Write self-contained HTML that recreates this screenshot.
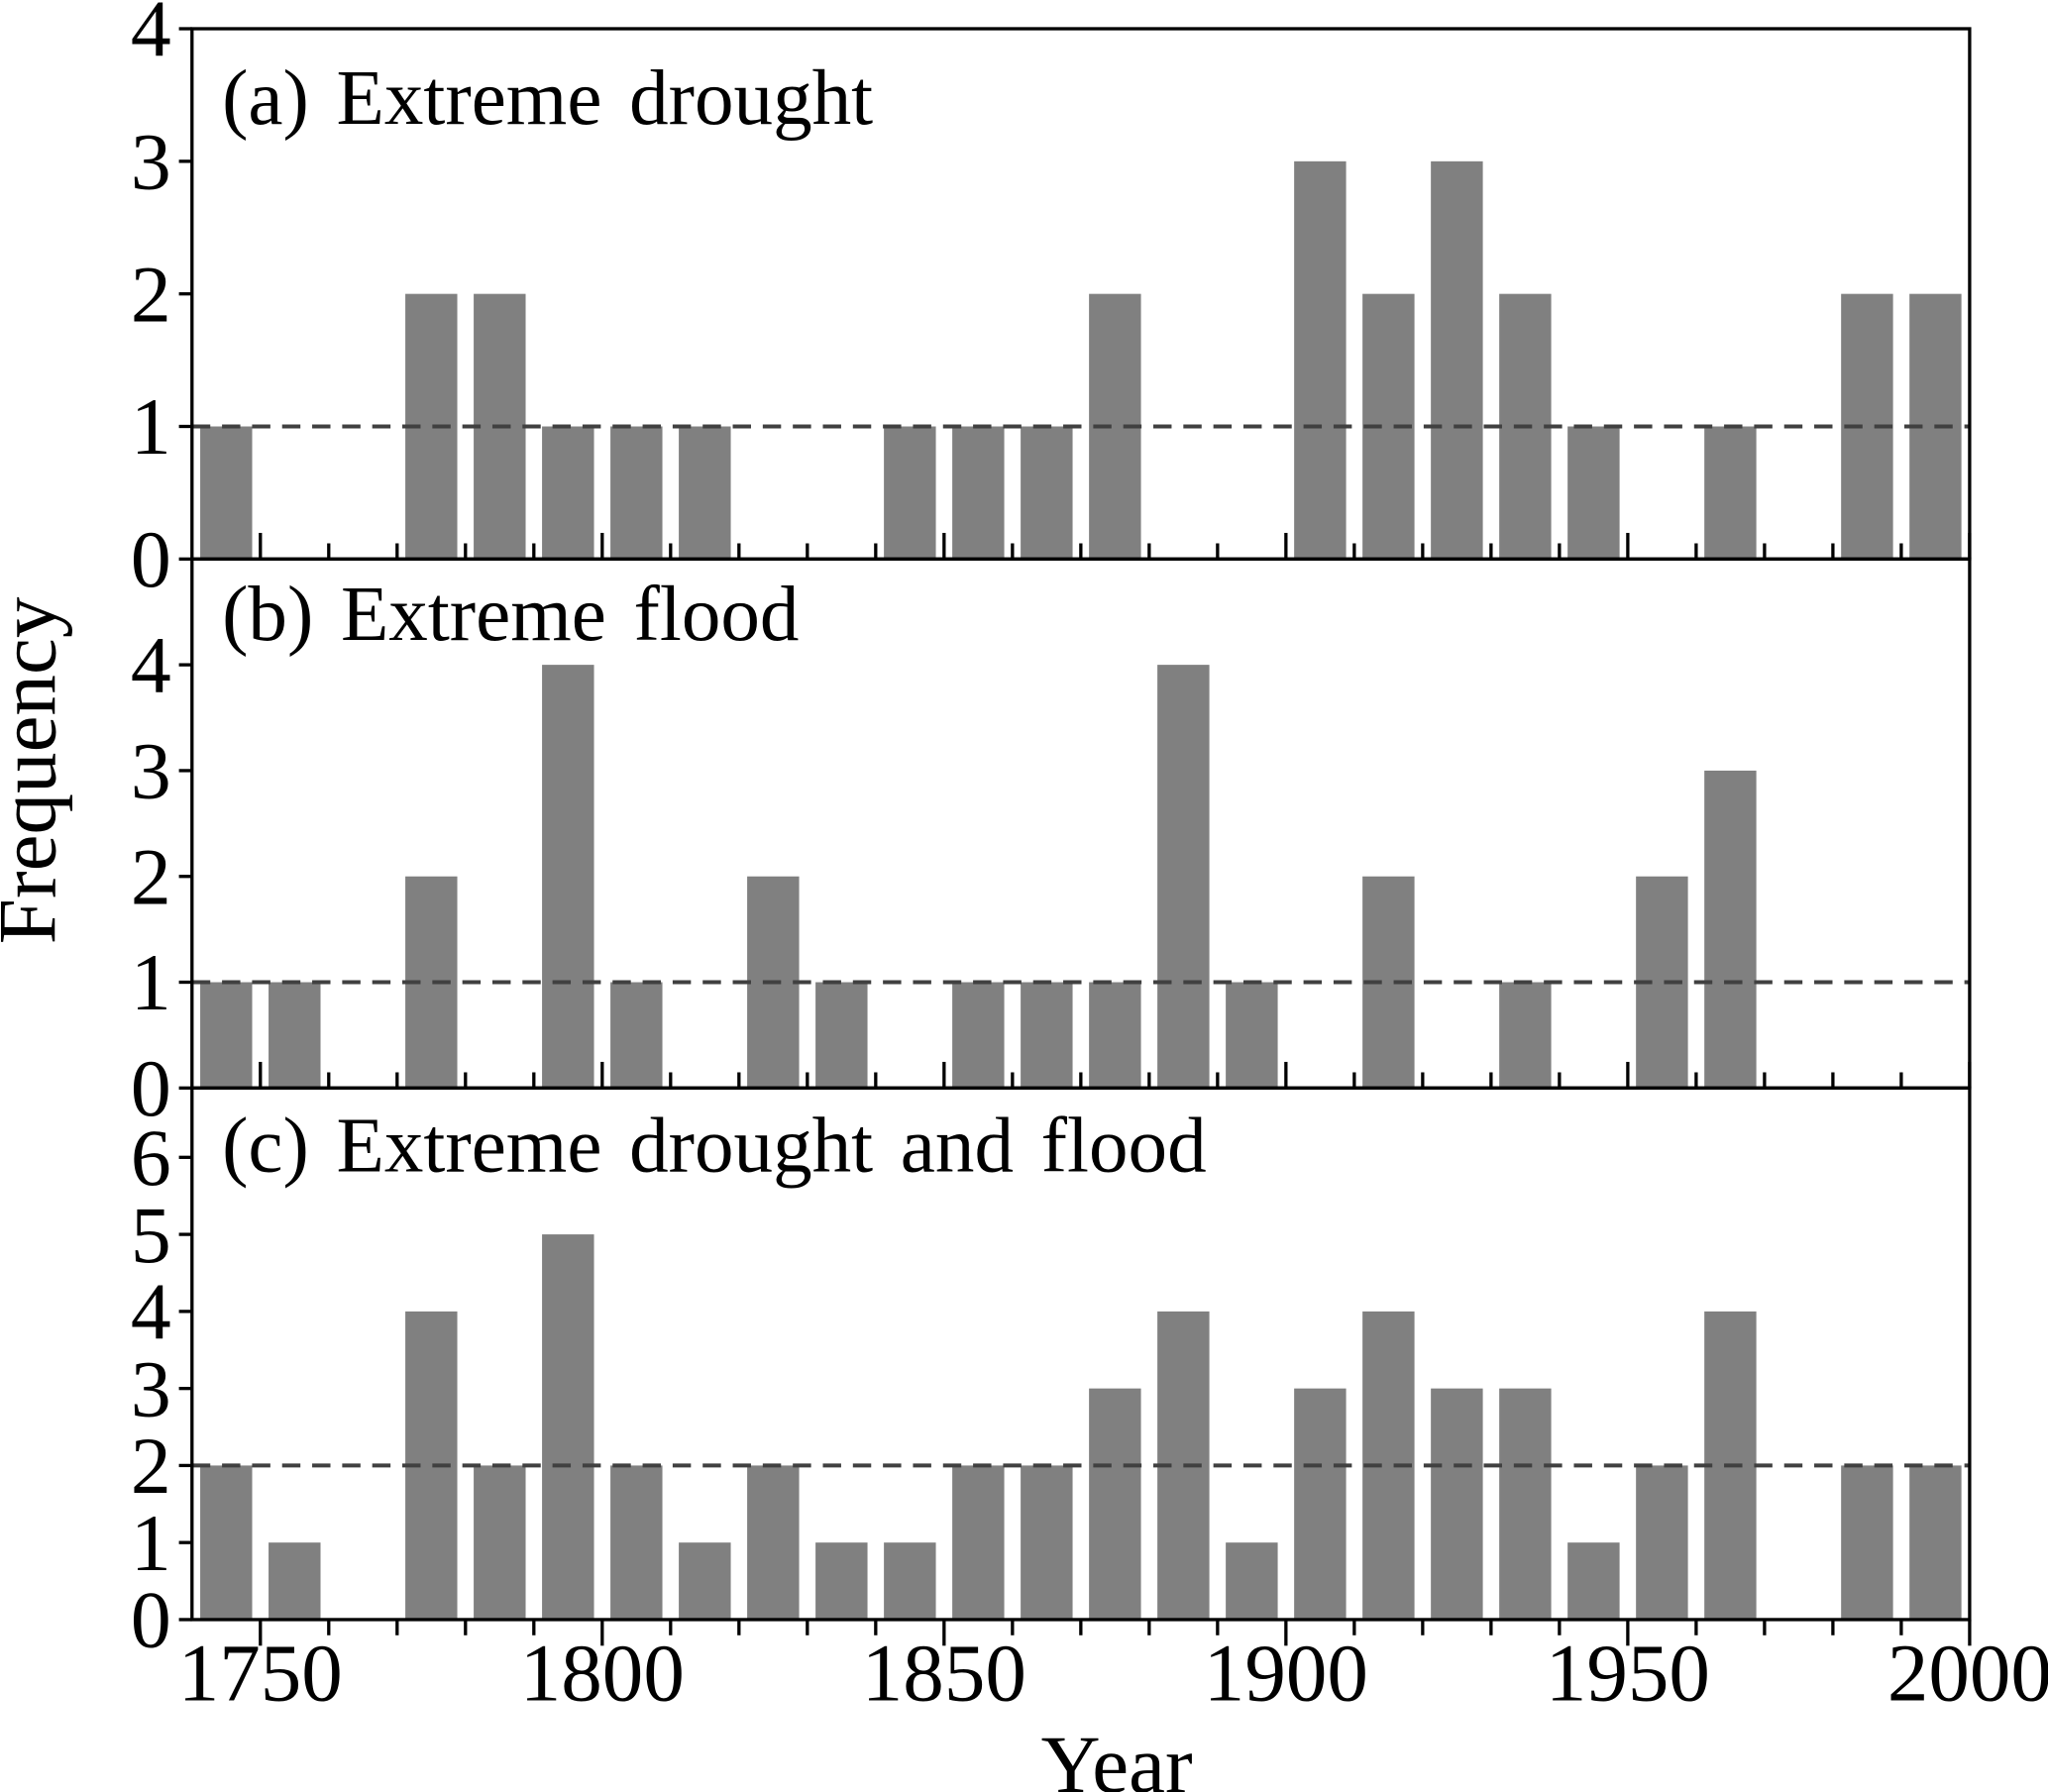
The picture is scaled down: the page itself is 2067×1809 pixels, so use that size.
<!DOCTYPE html>
<html><head><meta charset="utf-8"><style>
html,body{margin:0;padding:0;background:#fff;}
svg{display:block;font-family:"Liberation Serif",serif;}
</style></head><body>
<svg id="chart" width="2067" height="1809" viewBox="0 0 1568 1372" preserveAspectRatio="none" xmlns="http://www.w3.org/2000/svg"></svg>
<script>
const decades = [1740,1750,1760,1770,1780,1790,1800,1810,1820,1830,1840,1850,1860,1870,1880,1890,1900,1910,1920,1930,1940,1950,1960,1970,1980,1990];
const droughtValues = [1,0,0,2,2,1,1,1,0,0,1,1,1,2,0,0,3,2,3,2,1,0,1,0,2,2];
const floodValues = [1,1,0,2,0,4,1,0,2,1,0,1,1,1,4,1,0,2,0,1,0,2,3,0,0,0];
const combinedValues = [2,1,0,4,2,5,2,1,2,1,1,2,2,3,4,1,3,4,3,3,1,2,4,0,2,2];
const xTickLabels = [1750,1800,1850,1900,1950,2000];
const thresholds = [1,1,2];
const panelTitles = ["(a) Extreme drought","(b)  Extreme flood","(c) Extreme drought and flood"];

const NS="http://www.w3.org/2000/svg";
const svg=document.getElementById('chart');
const L=147,R=1508;
const x=y=>L+(y-1740)*(R-L)/260;
function mk(tag,attrs,parent){const e=document.createElementNS(NS,tag);for(const k in attrs)e.setAttribute(k,attrs[k]);(parent||svg).appendChild(e);return e;}
const panels=[
 {name:'drought',vals:droughtValues,top:22,bot:428,max:4,ticks:[0,1,2,3,4],thr:thresholds[0],title:panelTitles[0],tx:170,ty:95,inward:true},
 {name:'flood',vals:floodValues,top:428,bot:833,max:5,ticks:[0,1,2,3,4],thr:thresholds[1],title:panelTitles[1],tx:170,ty:490,inward:true},
 {name:'combined',vals:combinedValues,top:833,bot:1240,max:6.9,ticks:[0,1,2,3,4,5,6],thr:thresholds[2],title:panelTitles[2],tx:170,ty:897,inward:false}
];
panels.forEach(p=>{
 const g=mk('g',{});
 
 
 const yv=v=>p.bot-v*(p.bot-p.top)/p.max;
 p.vals.forEach((v,i)=>{
  if(v<=0)return;
  const b=mk('rect',{x:x(decades[i]+1.2),y:yv(v),width:x(decades[i]+8.8)-x(decades[i]+1.2),height:p.bot-yv(v),fill:'#808080'},g);
  
  
 });
 const d=mk('line',{x1:L,x2:R,y1:yv(p.thr),y2:yv(p.thr),stroke:'#404040','stroke-width':3,'stroke-dasharray':'14,9'},g);
 
 
 mk('rect',{x:L,y:p.top,width:R-L,height:p.bot-p.top,fill:'none',stroke:'#000','stroke-width':2.5},g);
 p.ticks.forEach(t=>{
  mk('line',{x1:L-10,x2:L,y1:yv(t),y2:yv(t),stroke:'#000','stroke-width':2.5},g);
  const tl=mk('text',{x:L-16,y:yv(t)+21,'text-anchor':'end','font-size':62},g);
  tl.textContent=t;
  
  
 });
 for(let yr=1750;yr<=2000;yr+=10){
  const major=yr%50===0,len=major?20:12;
  if(p.inward) mk('line',{x1:x(yr),x2:x(yr),y1:p.bot,y2:p.bot-len,stroke:'#000','stroke-width':2.5},g);
  else mk('line',{x1:x(yr),x2:x(yr),y1:p.bot,y2:p.bot+len,stroke:'#000','stroke-width':2.5},g);
 }
 const t=mk('text',{x:p.tx,y:p.ty,'font-size':60,'word-spacing':6},g);
 t.textContent=p.title;
 
 
});
xTickLabels.forEach(v=>{
 const t=mk('text',{x:x(v),y:1302,'text-anchor':'middle','font-size':63});
 t.textContent=v;
 
 
});
const xt=mk('text',{x:855,y:1372,'text-anchor':'middle','font-size':63});
xt.textContent='Year';


const yt=mk('text',{x:0,y:0,'text-anchor':'middle','font-size':63,transform:'translate(42,590) rotate(-90)'});
yt.textContent='Frequency';


</script>
</body></html>
